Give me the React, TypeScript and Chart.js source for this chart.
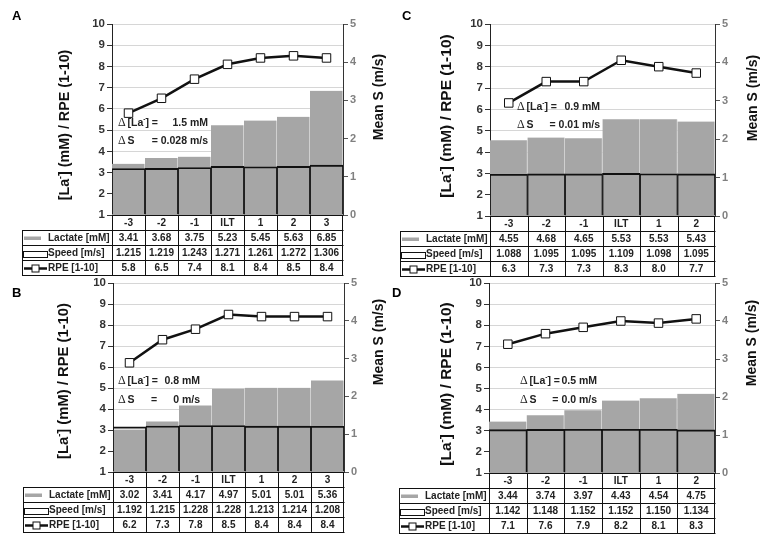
import React, { useEffect, useRef } from "react";
import { Chart, registerables } from "chart.js";
Chart.register(...registerables);

const FONT = '"Liberation Sans", Arial, Helvetica, sans-serif';
Chart.defaults.font.family = FONT;

// ---------- data ----------
const categoriesA = ["-3", "-2", "-1", "ILT", "1", "2", "3"];
const lactateA = [3.41, 3.68, 3.75, 5.23, 5.45, 5.63, 6.85];
const speedA = [1.215, 1.219, 1.243, 1.271, 1.261, 1.272, 1.306];
const rpeA = [5.8, 6.5, 7.4, 8.1, 8.4, 8.5, 8.4];
const deltaA = ["1.5 mM", "= 0.028 m/s"];

const categoriesB = ["-3", "-2", "-1", "ILT", "1", "2", "3"];
const lactateB = [3.02, 3.41, 4.17, 4.97, 5.01, 5.01, 5.36];
const speedB = [1.192, 1.215, 1.228, 1.228, 1.213, 1.214, 1.208];
const rpeB = [6.2, 7.3, 7.8, 8.5, 8.4, 8.4, 8.4];
const deltaB = ["0.8 mM", "0 m/s"];

const categoriesC = ["-3", "-2", "-1", "ILT", "1", "2"];
const lactateC = [4.55, 4.68, 4.65, 5.53, 5.53, 5.43];
const speedC = [1.088, 1.095, 1.095, 1.109, 1.098, 1.095];
const rpeC = [6.3, 7.3, 7.3, 8.3, 8.0, 7.7];
const deltaC = ["0.9 mM", "= 0.01 m/s"];

const categoriesD = ["-3", "-2", "-1", "ILT", "1", "2"];
const lactateD = [3.44, 3.74, 3.97, 4.43, 4.54, 4.75];
const speedD = [1.142, 1.148, 1.152, 1.152, 1.15, 1.134];
const rpeD = [7.1, 7.6, 7.9, 8.2, 8.1, 8.3];
const deltaD = ["0.5 mM", "= 0.0 m/s"];

const leftRange = [1, 10];
const rightRange = [0, 5];
const rowLabels = ["Lactate [mM]", "Speed [m/s]", "RPE [1-10]"];
const rightTitleText = "Mean S (m/s)";

// ---------- layout ----------
type Seg = { t: string; x: number; align: CanvasTextAlign };
type PanelCfg = {
  letter: string;
  categories: string[];
  lactate: number[];
  speed: number[];
  rpe: number[];
  canvas: { left: number; top: number; w: number; h: number };
  area: { l: number; t: number; r: number; b: number };
  letterPos: [number, number];
  leftTitle: { x: number; y: number; size: number };
  rightTitle: { x: number; y: number; size: number };
  ann: { x0: number; y1: number; y2: number; line1: Seg[]; line2: Seg[] };
};

const panels: PanelCfg[] = [
  {
    letter: "A", categories: categoriesA, lactate: lactateA, speed: speedA, rpe: rpeA,
    canvas: { left: 0, top: 0, w: 392, h: 280 },
    area: { l: 112, t: 24, r: 343, b: 215 },
    letterPos: [12, 20],
    leftTitle: { x: 65, y: 125, size: 14.3 },
    rightTitle: { x: 379, y: 97, size: 14 },
    ann: { x0: 118, y1: 123, y2: 141,
      line1: [{ t: deltaA[0], x: 208, align: "right" }],
      line2: [{ t: deltaA[1], x: 208, align: "right" }] },
  },
  {
    letter: "C", categories: categoriesC, lactate: lactateC, speed: speedC, rpe: rpeC,
    canvas: { left: 380, top: 0, w: 387, h: 280 },
    area: { l: 490, t: 24, r: 715, b: 216 },
    letterPos: [402, 20],
    leftTitle: { x: 447, y: 116, size: 15.5 },
    rightTitle: { x: 753, y: 98, size: 14 },
    ann: { x0: 517, y1: 107, y2: 125,
      line1: [{ t: deltaC[0], x: 600, align: "right" }],
      line2: [{ t: deltaC[1], x: 600, align: "right" }] },
  },
  {
    letter: "B", categories: categoriesB, lactate: lactateB, speed: speedB, rpe: rpeB,
    canvas: { left: 0, top: 262, w: 392, h: 277 },
    area: { l: 113, t: 283, r: 344, b: 472 },
    letterPos: [12, 297],
    leftTitle: { x: 64, y: 381, size: 14.8 },
    rightTitle: { x: 379, y: 342, size: 14 },
    ann: { x0: 118, y1: 381, y2: 400,
      line1: [{ t: deltaB[0], x: 200, align: "right" }],
      line2: [{ t: "=", x: 151, align: "left" }, { t: deltaB[1], x: 200, align: "right" }] },
  },
  {
    letter: "D", categories: categoriesD, lactate: lactateD, speed: speedD, rpe: rpeD,
    canvas: { left: 380, top: 262, w: 387, h: 277 },
    area: { l: 489, t: 283, r: 715, b: 473 },
    letterPos: [392, 297],
    leftTitle: { x: 447, y: 384, size: 15.5 },
    rightTitle: { x: 752, y: 343, size: 14 },
    ann: { x0: 520, y1: 381, y2: 400,
      line1: [{ t: deltaD[0], x: 597, align: "right" }],
      line2: [{ t: deltaD[1], x: 597, align: "right" }] },
  },
];

type Part = { t: string; sup?: boolean };
const laParts = (suffix: string): Part[] => [{ t: "[La" }, { t: "-", sup: true }, { t: suffix }];

function drawRich(ctx: CanvasRenderingContext2D, parts: Part[], x: number, y: number, size: number, align: "left" | "center") {
  const fontFor = (p: Part) => `bold ${p.sup ? size * 0.62 : size}px ${FONT}`;
  let total = 0;
  for (const p of parts) { ctx.font = fontFor(p); total += ctx.measureText(p.t).width; }
  let cx = align === "center" ? x - total / 2 : x;
  ctx.textAlign = "left";
  for (const p of parts) {
    ctx.font = fontFor(p);
    ctx.fillText(p.t, cx, p.sup ? y - size * 0.32 : y);
    cx += ctx.measureText(p.t).width;
  }
}

function makeOverlay(p: PanelCfg) {
  return {
    id: "overlay" + p.letter,
    afterDraw(chart: any) {
      const ctx = chart.ctx as CanvasRenderingContext2D;
      const ox = p.canvas.left, oy = p.canvas.top;
      const area = chart.chartArea;
      const xs = chart.scales.x;
      const n = p.categories.length;
      const colW = (area.right - area.left) / n;
      const px = (v: number) => Math.round(v) + 0.5;
      const rowH = 15;
      const top0 = area.bottom;
      const tLeft = area.left - 90;
      ctx.save();

      // table grid
      ctx.strokeStyle = "#111";
      ctx.lineWidth = 1;
      ctx.beginPath();
      ctx.moveTo(area.left, px(top0)); ctx.lineTo(area.right, px(top0));
      for (let r = 1; r <= 4; r++) {
        const y = px(top0 + r * rowH);
        ctx.moveTo(tLeft, y); ctx.lineTo(area.right + 0.5, y);
      }
      for (let i = 0; i < n; i++) {
        const x = px(xs.getPixelForValue(i) - colW / 2);
        ctx.moveTo(x, top0); ctx.lineTo(x, top0 + 4 * rowH + 0.5);
      }
      ctx.moveTo(px(area.right - 1), top0); ctx.lineTo(px(area.right - 1), top0 + 4 * rowH + 0.5);
      ctx.moveTo(px(tLeft), top0 + rowH); ctx.lineTo(px(tLeft), top0 + 4 * rowH + 0.5);
      ctx.stroke();

      // table text
      ctx.fillStyle = "#222";
      ctx.font = `bold 10px ${FONT}`;
      ctx.textBaseline = "middle";
      ctx.textAlign = "center";
      const rows = [
        p.categories,
        p.lactate.map((v) => v.toFixed(2)),
        p.speed.map((v) => v.toFixed(3)),
        p.rpe.map((v) => v.toFixed(1)),
      ];
      rows.forEach((vals, r) => {
        const yc = top0 + r * rowH + rowH / 2 + 1;
        vals.forEach((v, i) => ctx.fillText(v, xs.getPixelForValue(i), yc));
      });
      // row labels + legend symbols
      rowLabels.forEach((lab, k) => {
        const yc = top0 + (k + 1) * rowH + rowH / 2 + 1;
        ctx.textAlign = "left";
        ctx.fillStyle = "#222";
        ctx.fillText(lab, tLeft + 26, yc);
        if (k === 0) {
          ctx.fillStyle = "#a6a6a6";
          ctx.fillRect(tLeft + 2, yc - 2, 17, 3.5);
        } else if (k === 1) {
          ctx.fillStyle = "#fff";
          ctx.strokeStyle = "#111";
          ctx.lineWidth = 1;
          ctx.fillRect(tLeft + 1, yc - 3, 24, 6);
          ctx.strokeRect(Math.round(tLeft + 1) + 0.5, Math.round(yc - 3) + 0.5, 24, 6);
        } else {
          ctx.strokeStyle = "#111";
          ctx.lineWidth = 2.5;
          ctx.beginPath();
          ctx.moveTo(tLeft + 2, yc); ctx.lineTo(tLeft + 25, yc);
          ctx.stroke();
          ctx.lineWidth = 1;
          ctx.fillStyle = "#fff";
          ctx.fillRect(tLeft + 10, yc - 3.5, 7, 7);
          ctx.strokeRect(tLeft + 10, yc - 3.5, 7, 7);
        }
      });

      // annotation
      const a = p.ann;
      ctx.fillStyle = "#222";
      ctx.textBaseline = "middle";
      const drawDeltaLine = (y: number, label: Part[], segs: Seg[]) => {
        ctx.font = `12px "Liberation Serif", "Times New Roman", serif`;
        ctx.textAlign = "left";
        ctx.fillText("Δ", a.x0 - ox, y - oy);
        drawRich(ctx, label, a.x0 - ox + 9.5, y - oy, 10.5, "left");
        ctx.font = `bold 10.5px ${FONT}`;
        for (const s of segs) {
          ctx.textAlign = s.align;
          ctx.fillText(s.t, s.x - ox, y - oy);
        }
      };
      drawDeltaLine(a.y1, laParts("] ="), a.line1);
      drawDeltaLine(a.y2, [{ t: "S" }], a.line2);

      // left title
      ctx.fillStyle = "#111";
      ctx.save();
      ctx.translate(p.leftTitle.x - ox, p.leftTitle.y - oy);
      ctx.rotate(-Math.PI / 2);
      ctx.textBaseline = "middle";
      drawRich(ctx, laParts("] (mM) / RPE (1-10)"), 0, 0, p.leftTitle.size, "center");
      ctx.restore();

      // right title
      ctx.save();
      ctx.translate(p.rightTitle.x - ox, p.rightTitle.y - oy);
      ctx.rotate(-Math.PI / 2);
      ctx.textBaseline = "middle";
      ctx.textAlign = "center";
      ctx.font = `bold ${p.rightTitle.size}px ${FONT}`;
      ctx.fillText(rightTitleText, 0, 0);
      ctx.restore();

      // panel letter
      ctx.font = `bold 13px ${FONT}`;
      ctx.textAlign = "left";
      ctx.textBaseline = "alphabetic";
      ctx.fillStyle = "#000";
      ctx.fillText(p.letter, p.letterPos[0] - ox, p.letterPos[1] - oy);

      ctx.restore();
    },
  };
}

function Panel({ p }: { p: PanelCfg }) {
  const ref = useRef<HTMLCanvasElement>(null);
  useEffect(() => {
    const c = p.canvas;
    const yWidth = p.area.l - c.left;
    const y1Width = c.left + c.w - p.area.r;
    const chart = new Chart(ref.current as HTMLCanvasElement, {
      type: "bar",
      data: {
        labels: p.categories,
        datasets: [
          {
            type: "line",
            label: "RPE [1-10]",
            data: p.rpe,
            yAxisID: "y",
            borderColor: "#111",
            borderWidth: 2.5,
            pointStyle: "rect",
            pointRadius: 6,
            pointBackgroundColor: "#fff",
            pointBorderColor: "#111",
            pointBorderWidth: 1,
            tension: 0,
          } as any,
          {
            label: "Speed [m/s]",
            data: p.speed,
            yAxisID: "y1",
            backgroundColor: "rgba(0,0,0,0)",
            borderColor: "#111",
            borderWidth: { top: 1.2, left: 0.55, right: 0.55, bottom: 0 },
            grouped: false,
            barPercentage: 1,
            categoryPercentage: 1,
          } as any,
          {
            label: "Lactate [mM]",
            data: p.lactate,
            yAxisID: "y",
            backgroundColor: "#a6a6a6",
            borderColor: "#e4e4e4",
            borderWidth: { top: 0, left: 0, right: 1, bottom: 0 },
            grouped: false,
            barPercentage: 1,
            categoryPercentage: 1,
          } as any,
        ],
      },
      options: {
        responsive: false,
        animation: false,
        devicePixelRatio: 1,
        layout: { padding: { top: p.area.t - c.top, bottom: c.top + c.h - p.area.b, left: 0, right: 0 } },
        plugins: { legend: { display: false }, tooltip: { enabled: false } },
        scales: {
          x: { display: false, offset: true },
          y: {
            position: "left",
            min: leftRange[0],
            max: leftRange[1],
            ticks: { stepSize: 1, padding: 2, color: "#333", font: { size: 11.5, weight: "bold" } },
            grid: { color: "#d6d6d6", tickColor: "#333", tickLength: 5, lineWidth: 1 },
            border: { color: "#222", width: 1 },
            afterFit: (s: any) => { s.width = yWidth; },
          },
          y1: {
            position: "right",
            min: rightRange[0],
            max: rightRange[1],
            ticks: { stepSize: 1, padding: 2, color: "#808080", font: { size: 11, weight: "bold" } },
            grid: { drawOnChartArea: false, tickColor: "#555", tickLength: 5 },
            border: { color: "#333", width: 1 },
            afterFit: (s: any) => { s.width = y1Width; },
          },
        },
      } as any,
      plugins: [makeOverlay(p)],
    });
    return () => chart.destroy();
  }, []);
  return (
    <canvas
      ref={ref}
      width={p.canvas.w}
      height={p.canvas.h}
      style={{ position: "absolute", left: p.canvas.left, top: p.canvas.top, width: p.canvas.w, height: p.canvas.h }}
    />
  );
}

export default function App() {
  return (
    <div style={{ position: "absolute", left: 0, top: 0, width: 767, height: 539, background: "#fff" }}>
      {panels.map((p) => (
        <Panel key={p.letter} p={p} />
      ))}
    </div>
  );
}
